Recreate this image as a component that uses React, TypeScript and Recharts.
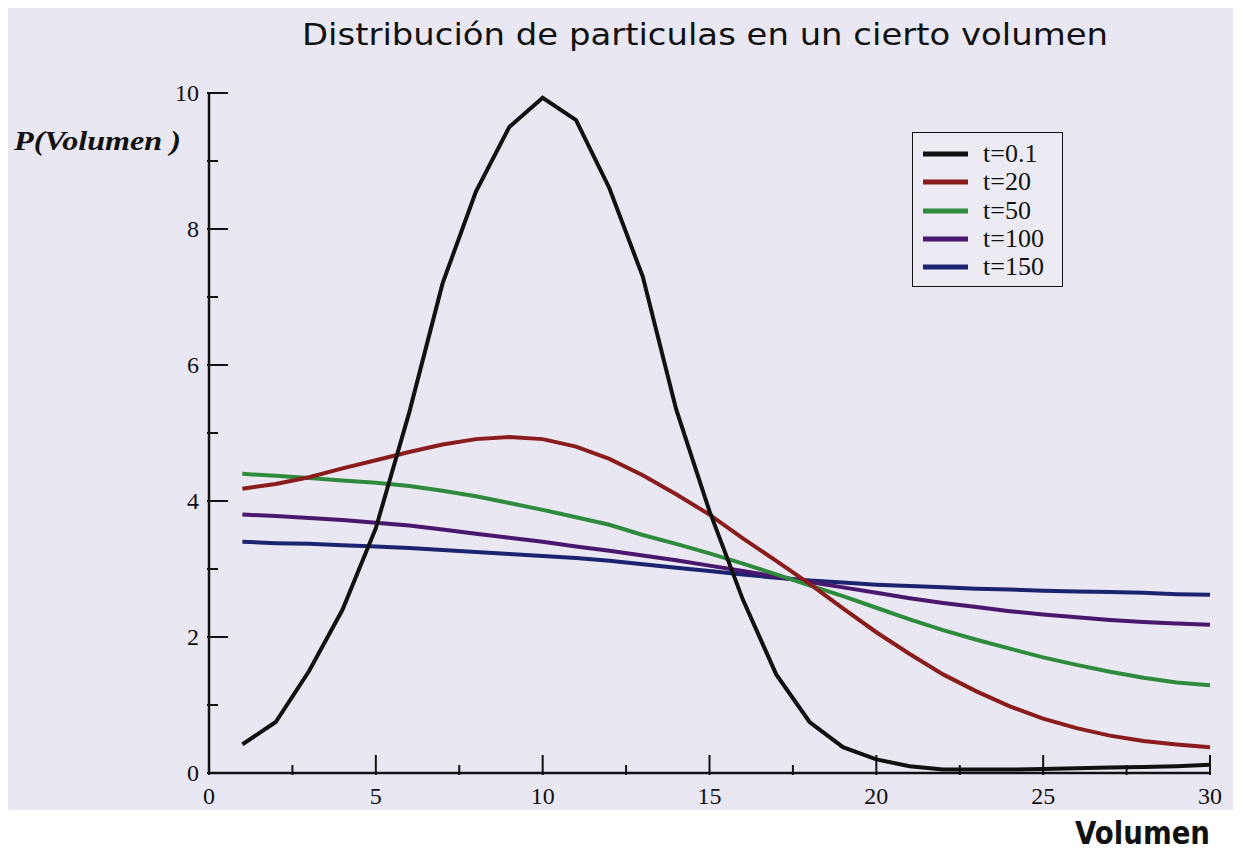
import React from "react";
import { LineChart, Line, XAxis, YAxis } from "recharts";

const volumen = [1, 2, 3, 4, 5, 6, 7, 8, 9, 10, 11, 12, 13, 14, 15, 16, 17, 18, 19, 20, 21, 22, 23, 24, 25, 26, 27, 28, 29, 30];

const t01 = [0.42, 0.75, 1.5, 2.4, 3.6, 5.3, 7.2, 8.55, 9.5, 9.93, 9.6, 8.6, 7.3, 5.35, 3.85, 2.55, 1.45, 0.75, 0.38, 0.2, 0.1, 0.05, 0.05, 0.05, 0.06, 0.07, 0.08, 0.09, 0.1, 0.12];
const t20 = [4.18, 4.25, 4.35, 4.48, 4.6, 4.72, 4.83, 4.91, 4.94, 4.91, 4.8, 4.62, 4.38, 4.1, 3.8, 3.45, 3.12, 2.78, 2.42, 2.07, 1.75, 1.45, 1.2, 0.98, 0.8, 0.66, 0.55, 0.47, 0.42, 0.38];
const t50 = [4.4, 4.37, 4.34, 4.3, 4.27, 4.22, 4.15, 4.07, 3.97, 3.87, 3.76, 3.65, 3.5, 3.37, 3.23, 3.08, 2.92, 2.76, 2.6, 2.43, 2.26, 2.1, 1.96, 1.83, 1.7, 1.59, 1.49, 1.4, 1.33, 1.29];
const t100 = [3.8, 3.78, 3.75, 3.72, 3.68, 3.64, 3.58, 3.52, 3.46, 3.4, 3.33, 3.27, 3.2, 3.13, 3.05, 2.97, 2.89, 2.81, 2.73, 2.65, 2.57, 2.5, 2.44, 2.38, 2.33, 2.29, 2.25, 2.22, 2.2, 2.18];
const t150 = [3.4, 3.38, 3.37, 3.35, 3.33, 3.31, 3.28, 3.25, 3.22, 3.19, 3.16, 3.12, 3.07, 3.02, 2.97, 2.92, 2.87, 2.83, 2.8, 2.77, 2.75, 2.73, 2.71, 2.7, 2.68, 2.67, 2.66, 2.65, 2.63, 2.62];

const xTicks = [0, 2.5, 5, 7.5, 10, 12.5, 15, 17.5, 20, 22.5, 25, 27.5, 30];
const yTicks = [0, 1, 2, 3, 4, 5, 6, 7, 8, 9, 10];

const series = [
  { key: "t01", name: "t=0.1", color: "#111111" },
  { key: "t20", name: "t=20", color: "#8a1c1c" },
  { key: "t50", name: "t=50", color: "#2e8b3c" },
  { key: "t100", name: "t=100", color: "#4a176e" },
  { key: "t150", name: "t=150", color: "#1c2472" },
];

const data = volumen.map((x, i) => ({
  x,
  t01: t01[i],
  t20: t20[i],
  t50: t50[i],
  t100: t100[i],
  t150: t150[i],
}));

const serif = "'Liberation Serif', 'Times New Roman', serif";

const XTick = (props: any) => {
  const { x, y, payload } = props;
  const major = payload.value % 5 === 0;
  return (
    <g>
      <line x1={x} y1={y} x2={x} y2={y - (major ? 20 : 10)} stroke="#111" strokeWidth={2} />
      {major && (
        <text x={x} y={y + 29} textAnchor="middle" fontSize={24} fontFamily={serif} fill="#111">
          {payload.value}
        </text>
      )}
    </g>
  );
};

const YTick = (props: any) => {
  const { x, y, payload } = props;
  const major = payload.value % 2 === 0;
  return (
    <g>
      <line x1={x} y1={y} x2={x + (major ? 21 : 11)} y2={y} stroke="#111" strokeWidth={2} />
      {major && (
        <text x={x - 8} y={y + 8} textAnchor="end" fontSize={24} fontFamily={serif} fill="#111">
          {payload.value}
        </text>
      )}
    </g>
  );
};

const LegendBox = () => (
  <div
    style={{
      position: "absolute",
      left: 912,
      top: 132,
      border: "1.5px solid #111",
      width: 151,
      height: 155,
      boxSizing: "border-box",
      paddingTop: 7,
      background: "#ecebf3",
    }}
  >
    {series.map((s) => (
      <div key={s.key} style={{ height: 28.3, display: "flex", alignItems: "center" }}>
        <svg width={70} height={10}>
          <line x1={10} y1={5} x2={55} y2={5} stroke={s.color} strokeWidth={5} />
        </svg>
        <span style={{ fontFamily: serif, fontSize: 26, color: "#111", lineHeight: "28px" }}>{s.name}</span>
      </div>
    ))}
  </div>
);

export default function App() {
  return (
    <div style={{ position: "absolute", left: 0, top: 0, width: 1243, height: 853, background: "#fff" }}>
      <div style={{ position: "absolute", left: 8, top: 8, width: 1225, height: 802, background: "#e9e7f1" }} />
      <svg style={{ position: "absolute", left: 0, top: 0 }} width={1243} height={853}>
        <text x={302} y={45} fontSize={31} fontFamily="'DejaVu Sans', sans-serif" fill="#111" textLength={806} lengthAdjust="spacingAndGlyphs">
          Distribución de particulas en un cierto volumen
        </text>
        <text x={1075} y={844} fontSize={32} fontWeight="bold" fontFamily="'DejaVu Sans', sans-serif" fill="#111" textLength={135} lengthAdjust="spacingAndGlyphs">
          Volumen
        </text>
        <text x={14} y={150} fontSize={27} fontStyle="italic" fontWeight="bold" fontFamily={serif} fill="#111" textLength={167} lengthAdjust="spacingAndGlyphs">
          P(Volumen )
        </text>
      </svg>
      <div style={{ position: "absolute", left: 0, top: 0 }}>
        <LineChart width={1243} height={853} data={data} margin={{ top: 93, right: 33, bottom: 50, left: 169 }}>
          <XAxis
            dataKey="x"
            type="number"
            domain={[0, 30]}
            ticks={xTicks}
            interval={0}
            tickSize={0}
            tickLine={false}
            tick={<XTick />}
            height={30}
            axisLine={{ stroke: "#111", strokeWidth: 2.5 }}
          />
          <YAxis
            type="number"
            domain={[0, 10]}
            ticks={yTicks}
            interval={0}
            tickSize={0}
            tickLine={false}
            tick={<YTick />}
            width={40}
            axisLine={{ stroke: "#111", strokeWidth: 2.5 }}
          />
          {[...series].reverse().map((s) => (
            <Line
              key={s.key}
              type="linear"
              dataKey={s.key}
              name={s.name}
              stroke={s.color}
              strokeWidth={4}
              dot={false}
              isAnimationActive={false}
            />
          ))}
        </LineChart>
      </div>
      <LegendBox />
    </div>
  );
}
